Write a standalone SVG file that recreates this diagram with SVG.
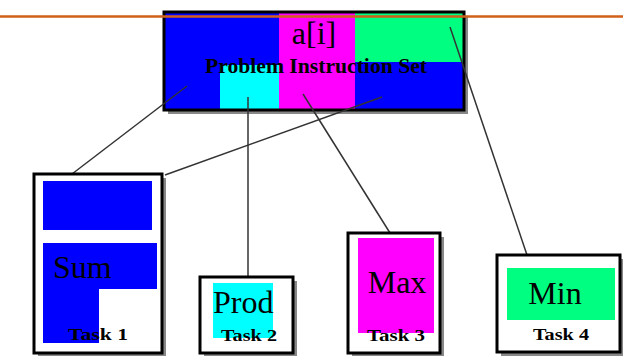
<svg xmlns="http://www.w3.org/2000/svg" width="623" height="356" viewBox="0 0 623 356">
  <style>
    .frame { fill: none; stroke: #000; stroke-width: 3; }
    .shadow { fill: #888; }
    .paper { fill: #fff; }
    .big { font-family: "Liberation Serif", serif; font-size: 32px; fill: #000; }
    .task { font-family: "Liberation Serif", serif; font-size: 17px; font-weight: bold; fill: #000; }
    .link { stroke: #333; stroke-width: 1.5; fill: none; }
  </style>

  <!-- problem instruction set -->
  <g id="problem">
    <rect class="shadow" x="168" y="16" width="300" height="98"/>
    <rect x="164" y="12" width="115" height="98" fill="#0000ff"/>
    <rect x="279" y="12" width="76" height="98" fill="#ff00ff"/>
    <rect x="355" y="12" width="109" height="50" fill="#00ff80"/>
    <rect x="355" y="62" width="109" height="48" fill="#0000ff"/>
    <rect x="220" y="65" width="59" height="45" fill="#00ffff"/>
    <rect class="frame" x="164" y="12" width="300" height="98"/>
    <text class="big" x="314" y="44" text-anchor="middle" font-size="31">a[i]</text>
    <text x="205" y="73" font-family="Liberation Serif, serif" font-size="20" font-weight="bold" textLength="222" lengthAdjust="spacingAndGlyphs">Problem Instruction Set</text>
  </g>

  <!-- connectors -->
  <g id="connectors">
    <line class="link" x1="187" y1="86" x2="72" y2="174"/>
    <line class="link" x1="382" y1="97" x2="165" y2="175"/>
    <line class="link" x1="248" y1="97" x2="248" y2="277"/>
    <line class="link" x1="303" y1="94" x2="390" y2="233"/>
    <line class="link" x1="450" y1="27" x2="527" y2="255"/>
  </g>

  <!-- task 1 -->
  <g id="task1">
    <rect class="shadow" x="38" y="178" width="128" height="179"/>
    <rect class="paper" x="34" y="174" width="128" height="179"/>
    <rect x="43" y="181" width="109" height="49" fill="#0000ff"/>
    <path d="M43 243 H157 V289 H99 V343 H43 Z" fill="#0000ff"/>
    <rect class="frame" x="34" y="174" width="128" height="179"/>
    <text class="big" x="53" y="278">Sum</text>
    <text class="task" x="68" y="340" textLength="60" lengthAdjust="spacingAndGlyphs">Task 1</text>
  </g>

  <!-- task 2 -->
  <g id="task2">
    <rect class="shadow" x="204" y="281" width="93" height="76"/>
    <rect class="paper" x="200" y="277" width="93" height="76"/>
    <rect x="213" y="283" width="60" height="55" fill="#00ffff"/>
    <rect class="frame" x="200" y="277" width="93" height="76"/>
    <text class="big" x="213" y="313">Prod</text>
    <text class="task" x="221" y="341" textLength="56" lengthAdjust="spacingAndGlyphs">Task 2</text>
  </g>

  <!-- task 3 -->
  <g id="task3">
    <rect class="shadow" x="352" y="237" width="92" height="120"/>
    <rect class="paper" x="348" y="233" width="92" height="120"/>
    <rect x="358" y="238" width="76" height="95" fill="#ff00ff"/>
    <rect class="frame" x="348" y="233" width="92" height="120"/>
    <text class="big" x="397" y="293" text-anchor="middle">Max</text>
    <text class="task" x="367" y="341" textLength="58" lengthAdjust="spacingAndGlyphs">Task 3</text>
  </g>

  <!-- task 4 -->
  <g id="task4">
    <rect class="shadow" x="501" y="259" width="123" height="97"/>
    <rect class="paper" x="497" y="255" width="123" height="97"/>
    <rect x="507" y="268" width="108" height="52" fill="#00ff80"/>
    <rect class="frame" x="497" y="255" width="123" height="97"/>
    <text class="big" x="555" y="304" text-anchor="middle">Min</text>
    <text class="task" x="533" y="340" textLength="56" lengthAdjust="spacingAndGlyphs">Task 4</text>
  </g>

  <!-- slide rule line -->
  <line x1="0" y1="16.5" x2="623" y2="16.5" stroke="#d0601a" stroke-width="2.5"/>
</svg>
